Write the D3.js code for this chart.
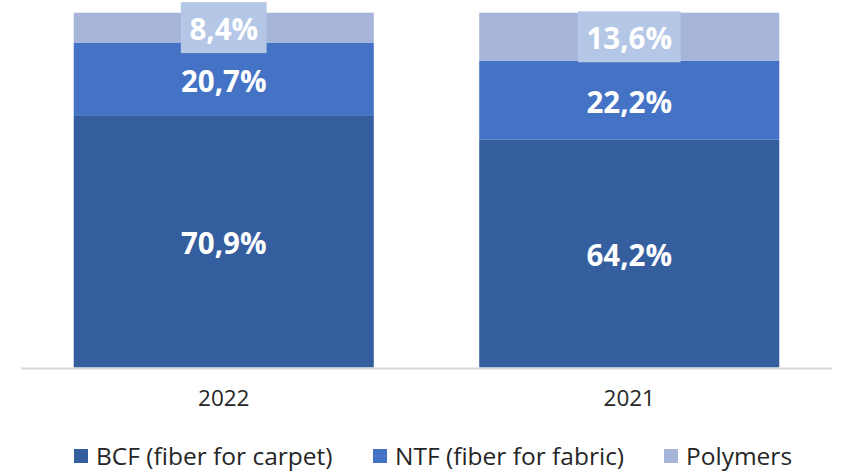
<!DOCTYPE html>
<html><head><meta charset="utf-8">
<script src="https://cdn.jsdelivr.net/npm/d3@7"></script>
<style>body{margin:0;background:#fff}svg{display:block}</style>
</head><body>
<script>
const categories = ["2022", "2021"];
const seriesNames = ["BCF (fiber for carpet)", "NTF (fiber for fabric)", "Polymers"];
const bcf = [70.9, 64.2];
const ntf = [20.7, 22.2];
const polymers = [8.4, 13.6];
const labels = [["70,9%", "64,2%"], ["20,7%", "22,2%"], ["8,4%", "13,6%"]];
const colors = ["#355E9F", "#4472C4", "#A7B5DA"];

const W = 841, H = 473;
const svg = d3.select("body").append("svg").attr("width", W).attr("height", H);
const font = "'Open Sans', sans-serif";

const x = d3.scaleBand().domain(categories).range([21, 832]).paddingInner(0.26).paddingOuter(0.13);
const y = d3.scaleLinear().domain([0, 100]).range([367.5, 12.7]);

const table = categories.map((c, i) => ({cat: c, s0: bcf[i], s1: ntf[i], s2: polymers[i]}));
const stack = d3.stack().keys(["s0", "s1", "s2"])(table);

stack.forEach((layer, li) => {
  svg.append("g").selectAll("rect").data(layer).join("rect")
    .attr("x", d => x(d.data.cat))
    .attr("width", x.bandwidth())
    .attr("y", d => y(d[1]))
    .attr("height", d => y(d[0]) - y(d[1]))
    .attr("fill", colors[li]);
});

// axis line
const xAxis = d3.axisBottom(x).tickSize(0).tickPadding(22);
const gx = svg.append("g").attr("transform", "translate(0,368.5)").call(xAxis);
gx.select(".domain").attr("stroke", "#d9d9d9").attr("stroke-width", 2).attr("d", "M21,0H832");
gx.selectAll("text").attr("font-family", font).attr("font-size", 22.5).attr("fill", "#262626").attr("dy", "0.71em");

// labels
stack.forEach((layer, li) => {
  layer.forEach((d, i) => {
    const cx = x(d.data.cat) + x.bandwidth() / 2;
    const cy = (y(d[0]) + y(d[1])) / 2 + 2;
    const g = svg.append("g");
    const t = g.append("text").attr("x", cx).attr("y", cy).attr("dy", "0.36em")
      .attr("text-anchor", "middle").attr("font-family", font).attr("font-weight", "bold")
      .attr("font-size", 29.5).attr("fill", "#fff").text(labels[li][i]);
    if (li === 2) {
      const bb = t.node().getBBox();
      g.insert("rect", "text").attr("x", cx - bb.width / 2 - 8.5).attr("width", bb.width + 17)
        .attr("y", cy - 2 - 25.5).attr("height", 51).attr("fill", "#B4C7E7");
    }
  });
});

// legend
const legendX = [74, 373, 664];
const lg = svg.append("g");
seriesNames.forEach((n, i) => {
  lg.append("rect").attr("x", legendX[i]).attr("y", 449).attr("width", 14).attr("height", 14).attr("fill", colors[i]);
  lg.append("text").attr("x", legendX[i] + 22).attr("y", 456).attr("dy", "0.36em")
    .attr("font-family", font).attr("font-size", 24.5).attr("fill", "#262626").text(n);
});
</script>
</body></html>
